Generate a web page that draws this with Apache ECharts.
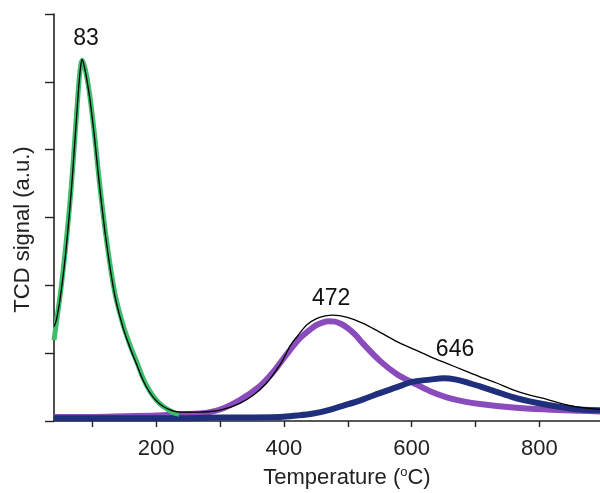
<!DOCTYPE html>
<html>
<head>
<meta charset="utf-8">
<script src="https://cdn.jsdelivr.net/npm/echarts@6/dist/echarts.min.js"></script>
<style>
  html, body { margin: 0; padding: 0; background: #fff; }
  #chart { width: 600px; height: 493px; }
</style>
</head>
<body>
<div id="chart"></div>
<script>
// measured TCD signal (black)
const measuredT = [40, 44, 50, 57, 62, 67, 71, 75.5, 79.5, 82, 84, 88, 92, 96, 100, 104, 112, 122, 135, 148, 159, 170, 180, 190, 200, 210, 220, 230, 240, 253, 268, 285, 300, 315, 331, 352, 373, 394, 405, 412, 422, 436, 451, 465, 477, 498, 524, 550, 577, 603, 629, 655, 681, 707, 733, 759, 785, 812, 838, 864, 895];
const measuredV = [1.39, 1.5, 1.83, 2.36, 2.84, 3.38, 3.9, 4.5, 5.02, 5.24, 5.33, 5.2, 5.0, 4.76, 4.46, 4.13, 3.41, 2.64, 1.86, 1.38, 1.08, 0.82, 0.59, 0.42, 0.3, 0.22, 0.17, 0.14, 0.13, 0.13, 0.13, 0.14, 0.16, 0.2, 0.26, 0.38, 0.56, 0.83, 1.02, 1.14, 1.26, 1.42, 1.51, 1.55, 1.56, 1.53, 1.44, 1.31, 1.17, 1.06, 0.95, 0.85, 0.75, 0.65, 0.56, 0.46, 0.38, 0.32, 0.25, 0.2, 0.17];

// fitted peak 1 (green)
const greenT = [40, 44, 50, 57, 62, 67, 71, 75.5, 79.5, 82, 84, 88, 92, 96, 100, 104, 112, 122, 135, 148, 159, 170, 180, 190, 200, 210, 220, 228, 236];
const greenV = [1.19, 1.47, 1.88, 2.45, 2.92, 3.45, 3.95, 4.55, 5.05, 5.25, 5.32, 5.22, 5.04, 4.8, 4.5, 4.17, 3.45, 2.68, 1.9, 1.42, 1.12, 0.86, 0.62, 0.44, 0.31, 0.22, 0.16, 0.12, 0.1];

// fitted peak 2 (purple)
const purpleT = [40, 100, 150, 200, 240, 268, 300, 331, 363, 383, 404, 425, 440, 450, 460, 470, 480, 490, 500, 512, 524, 550, 577, 603, 629, 655, 681, 707, 759, 812, 864, 895];
const purpleV = [0.06, 0.06, 0.07, 0.08, 0.1, 0.11, 0.17, 0.31, 0.52, 0.72, 0.98, 1.22, 1.34, 1.41, 1.45, 1.47, 1.465, 1.43, 1.37, 1.27, 1.14, 0.89, 0.69, 0.56, 0.44, 0.35, 0.29, 0.25, 0.2, 0.17, 0.15, 0.14];

// fitted peak 3 (blue)
const blueT = [40, 200, 300, 394, 420, 446, 470, 498, 524, 550, 577, 603, 629, 650, 670, 690, 707, 733, 759, 785, 812, 838, 864, 895];
const blueV = [0.04, 0.04, 0.05, 0.06, 0.08, 0.11, 0.16, 0.24, 0.32, 0.41, 0.5, 0.58, 0.61, 0.63, 0.61, 0.56, 0.51, 0.43, 0.35, 0.29, 0.24, 0.2, 0.17, 0.16];

// peak annotations
const peakNames = ['83', '472', '646'];
const peakLabelT = [90, 474, 668];
const peakLabelV = [5.64, 1.8, 1.05];

const xTicks = [100, 200, 300, 400, 500, 600, 700, 800];
const xLabels = [200, 400, 600, 800];

const FONT = '"Liberation Sans", Arial, sans-serif';

function zip(xs, ys) {
    return xs.map((x, i) => [x, ys[i]]);
}

function curve(name, xs, ys, color, width) {
    return {
        name: name,
        type: 'line',
        data: zip(xs, ys),
        smooth: 0.35,
        showSymbol: false,
        lineStyle: { color: color, width: width },
        silent: true
    };
}

const chart = echarts.init(document.getElementById('chart'));

chart.setOption({
    animation: false,
    backgroundColor: '#fff',
    grid: { left: 54, right: 0, top: 14, bottom: 72, containLabel: false, outerBoundsMode: 'none' },
    xAxis: {
        type: 'value',
        min: 40,
        max: 895,
        name: 'Temperature ({sup|o}C)',
        nameLocation: 'middle',
        nameGap: 45,
        nameTextStyle: {
            color: '#222', fontSize: 22, fontFamily: FONT,
            padding: [0, 0, 0, 40],
            rich: { sup: { fontSize: 13, fontFamily: FONT, color: '#222', padding: [0, 0, 10, 0] } }
        },
        axisLine: { show: true, onZero: false, lineStyle: { color: '#222', width: 1.6 } },
        axisTick: { show: true, length: 6, customValues: xTicks, lineStyle: { color: '#222', width: 1.4 } },
        axisLabel: { customValues: xLabels, color: '#222', fontSize: 22, fontFamily: FONT, margin: 17 },
        splitLine: { show: false }
    },
    yAxis: {
        type: 'value',
        min: 0,
        max: 6,
        interval: 1,
        name: 'TCD signal (a.u.)',
        nameLocation: 'middle',
        nameGap: 20,
        nameTextStyle: { color: '#222', fontSize: 22, fontFamily: FONT, padding: [0, 24, 0, 0] },
        axisLine: { show: true, onZero: false, lineStyle: { color: '#222', width: 1.6 } },
        axisTick: { show: true, length: 9, lineStyle: { color: '#222', width: 1.4 } },
        axisLabel: { show: false },
        splitLine: { show: false }
    },
    series: [
        curve('Peak 2', purpleT, purpleV, '#8a4cbd', 6),
        curve('Peak 3', blueT, blueV, '#1f2f7c', 6),
        curve('Peak 1', greenT, greenV, '#3dbd6c', 5),
        curve('TCD', measuredT, measuredV, '#000', 1.3),
        {
            name: 'Peak labels',
            type: 'scatter',
            symbolSize: 0,
            itemStyle: { color: 'rgba(0,0,0,0)' },
            data: peakNames.map((n, i) => ({ name: n, value: [peakLabelT[i], peakLabelV[i]] })),
            label: {
                show: true,
                position: 'inside',
                formatter: p => p.name,
                color: '#111',
                opacity: 1,
                textBorderWidth: 0,
                fontSize: 23,
                fontFamily: FONT
            },
            silent: true,
            z: 5
        }
    ]
});
</script>
</body>
</html>
